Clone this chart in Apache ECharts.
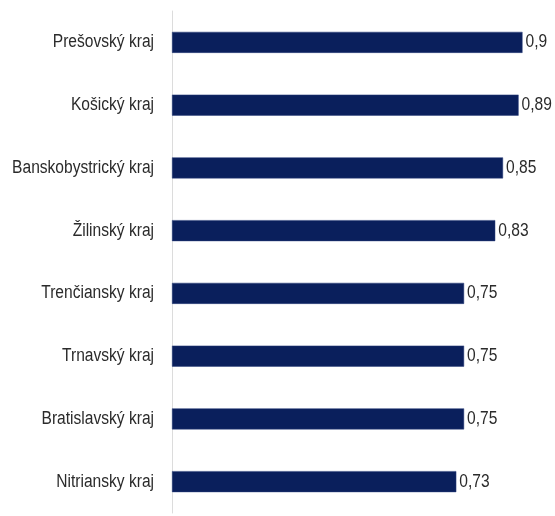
<!DOCTYPE html>
<html>
<head>
<meta charset="utf-8">
<script src="https://cdn.jsdelivr.net/npm/echarts@6/dist/echarts.min.js"></script>
<style>
  html, body { margin: 0; padding: 0; background: #fff; }
  #chart { width: 555px; height: 516px; }
</style>
</head>
<body>
<div id="chart"></div>
<script>
// Regions, listed top to bottom as drawn
const regions = [
  'Prešovský kraj',
  'Košický kraj',
  'Banskobystrický kraj',
  'Žilinský kraj',
  'Trenčiansky kraj',
  'Trnavský kraj',
  'Bratislavský kraj',
  'Nitriansky kraj'
];
const values = [0.9, 0.89, 0.85, 0.83, 0.75, 0.75, 0.75, 0.73];

// Tall, condensed lettering: a regular sans face squeezed horizontally
const FONT = '18px "Liberation Sans", Arial, sans-serif';
const SQUEEZE = 0.865;
const TEXT_COLOR = '#2b2b2b';
const fmt = v => String(v).replace('.', ',');

const chart = echarts.init(document.getElementById('chart'), null, { renderer: 'canvas' });

chart.setOption({
  animation: false,
  backgroundColor: '#ffffff',
  grid: { left: 172, right: 32.5, top: 11, bottom: 3, containLabel: false, outerBoundsMode: 'none' },
  xAxis: {
    type: 'value',
    min: 0,
    max: 0.9,
    show: false
  },
  yAxis: {
    type: 'category',
    inverse: true,
    data: regions,
    axisLine: { show: true, lineStyle: { color: '#dcdcdc', width: 1 } },
    axisTick: { show: false },
    axisLabel: { show: false }
  },
  series: [{
    type: 'bar',
    data: values,
    barWidth: 21,
    itemStyle: { color: '#0a1f5c', borderColor: '#2a3f7a', borderWidth: 0.5 }
  }]
});

// Category names and value labels, placed through the axes' own scales
const x0 = chart.convertToPixel({ xAxisIndex: 0 }, 0);
const texts = [];
regions.forEach((name, i) => {
  const y = chart.convertToPixel({ yAxisIndex: 0 }, name);
  texts.push({
    type: 'text',
    x: x0 - 18, y: y,
    scaleX: SQUEEZE,
    silent: true,
    style: { text: name, font: FONT, fill: TEXT_COLOR, align: 'right', verticalAlign: 'middle' }
  });
  const xv = chart.convertToPixel({ xAxisIndex: 0 }, values[i]);
  texts.push({
    type: 'text',
    x: xv + 3, y: y,
    scaleX: SQUEEZE,
    silent: true,
    style: { text: fmt(values[i]), font: FONT, fill: TEXT_COLOR, align: 'left', verticalAlign: 'middle' }
  });
});
chart.setOption({ graphic: { elements: texts } });
</script>
</body>
</html>
